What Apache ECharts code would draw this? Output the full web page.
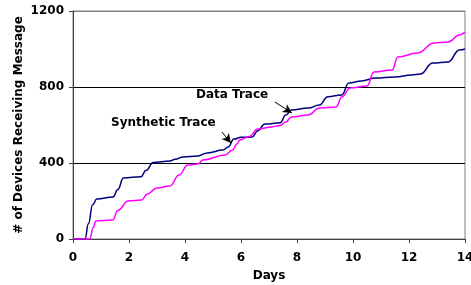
<!DOCTYPE html>
<html>
<head>
<meta charset="utf-8">
<script src="https://cdn.jsdelivr.net/npm/echarts@6/dist/echarts.min.js"></script>
<style>
  html, body { margin: 0; padding: 0; background: #fff; }
  #chart { width: 471px; height: 285px; }
</style>
</head>
<body>
<div id="chart"></div>
<script>
// days / devices for the recorded trace
const dataDays = [0, 0.43, 0.55, 0.7, 0.85, 1.43, 1.6, 1.8, 2.43, 2.6, 2.87, 3.46, 3.65, 3.93, 4.46, 4.8, 5.36, 5.54, 5.75, 6.0, 6.4, 6.6, 6.85, 7.4, 7.6, 7.8, 8.4, 8.8, 9.1, 9.6, 9.85, 10.3, 10.8, 11.5, 12.1, 12.4, 12.85, 13.4, 13.8, 14];
const dataVals = [0, 0, 80, 180, 210, 221, 260, 321, 328, 360, 402, 410, 420, 432, 437, 453, 468, 484, 526, 535, 537, 570, 605, 612, 652, 679, 689, 705, 749, 758, 821, 832, 847, 853, 863, 868, 926, 932, 995, 1000];

// days / devices for the synthetic trace
const synthDays = [0, 0.6, 0.72, 0.82, 1.42, 1.6, 1.97, 2.45, 2.65, 3.0, 3.46, 3.79, 4.1, 4.46, 4.64, 5.43, 5.7, 5.85, 5.96, 6.3, 6.6, 7.1, 7.4, 7.6, 7.8, 8.4, 8.8, 9.4, 9.6, 9.9, 10.5, 10.75, 11.4, 11.6, 12.3, 12.9, 13.4, 13.8, 14];
const synthVals = [0, 0, 60, 95, 100, 150, 200, 205, 237, 268, 279, 337, 389, 395, 416, 442, 468, 500, 521, 540, 579, 590, 598, 616, 642, 652, 689, 695, 747, 795, 805, 879, 889, 958, 979, 1032, 1037, 1074, 1089];

const xTicks = [0, 2, 4, 6, 8, 10, 12, 14];
const yTicks = [0, 400, 800, 1200];

// annotation arrows: [from, to] in data space
const dataArrow = [[7.21, 721], [7.82, 663]];
const synthArrow = [[5.32, 563], [5.64, 505]];

const font = '"DejaVu Sans", Verdana, sans-serif';
const zip = (xs, ys) => xs.map((x, i) => [x, ys[i]]);

const chart = echarts.init(document.getElementById('chart'), null, { renderer: 'canvas' });

const arrowLine = (pts) => ({
  silent: true,
  symbol: ['none', 'arrow'],
  symbolSize: [7, 9],
  label: { show: false },
  lineStyle: { color: '#000', width: 1, type: 'solid' },
  data: [[{ coord: pts[0] }, { coord: pts[1] }]]
});

const option = {
  animation: false,
  grid: {
    left: 73, right: 6, top: 11, bottom: 46,
    outerBoundsMode: 'none',
    show: true, borderColor: '#808080', borderWidth: 1
  },
  xAxis: {
    type: 'value', min: 0, max: 14, interval: 2,
    name: 'Days', nameLocation: 'middle', nameGap: 31, nameMoveOverlap: false,
    nameTextStyle: { fontFamily: font, fontWeight: 'bold', fontSize: 12, color: '#000' },
    axisLine: { lineStyle: { color: '#404040', width: 1 } },
    axisTick: { show: true, inside: false, length: 4, lineStyle: { color: '#404040' } },
    axisLabel: {
      margin: 13, fontFamily: font, fontWeight: 'bold', fontSize: 12, color: '#000',
      formatter: (v) => xTicks.includes(v) ? String(v) : ''
    },
    splitLine: { show: false }
  },
  yAxis: {
    type: 'value', min: 0, max: 1200, interval: 400,
    name: '# of Devices Receiving Message', nameLocation: 'middle', nameGap: 48, nameMoveOverlap: false,
    nameTextStyle: { fontFamily: font, fontWeight: 'bold', fontSize: 12, color: '#000' },
    axisLine: { show: true, lineStyle: { color: '#404040', width: 1 } },
    axisTick: { show: true, inside: false, length: 4, lineStyle: { color: '#404040' } },
    axisLabel: {
      margin: 9, fontFamily: font, fontWeight: 'bold', fontSize: 12, color: '#000',
      formatter: (v) => yTicks.includes(v) ? String(v) : ''
    },
    splitLine: { show: true, lineStyle: { color: ['#000', '#000', '#000', '#808080'], width: 1 } }
  },
  series: [
    {
      name: 'Data Trace',
      type: 'line',
      data: zip(dataDays, dataVals),
      showSymbol: false,
      smooth: 0.45,
      smoothMonotone: 'x',
      lineStyle: { color: '#000080', width: 1.5 },
      markLine: arrowLine(dataArrow)
    },
    {
      name: 'Synthetic Trace',
      type: 'line',
      data: zip(synthDays, synthVals),
      showSymbol: false,
      smooth: 0.45,
      smoothMonotone: 'x',
      lineStyle: { color: '#ff00ff', width: 1.5 },
      markLine: arrowLine(synthArrow)
    }
  ],
  graphic: [
    {
      type: 'text', left: 196, top: 89,
      style: { text: 'Data Trace', font: 'bold 12px ' + font, fill: '#000' }
    },
    {
      type: 'text', left: 111, top: 117,
      style: { text: 'Synthetic Trace', font: 'bold 12px ' + font, fill: '#000' }
    }
  ]
};

chart.setOption(option);
</script>
</body>
</html>
